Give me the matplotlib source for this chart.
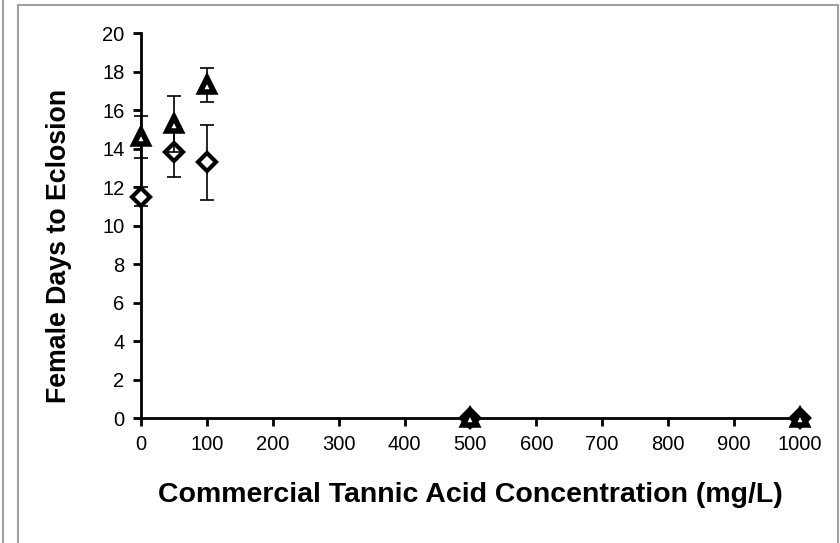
import matplotlib.pyplot as plt
from matplotlib.patches import Rectangle
from matplotlib.lines import Line2D

plt.rcParams['font.family'] = ['Liberation Sans', 'DejaVu Sans']

# data
conc = [0, 50, 100, 500, 1000]
tri_days = [14.6, 15.3, 17.3, 0, 0]
tri_err = [1.1, 1.45, 0.9, 0, 0]
dia_days = [11.5, 13.8, 13.3, 0, 0]
dia_err = [0.5, 1.25, 1.95, 0, 0]

fig = plt.figure(figsize=(8.4, 5.43), dpi=100)
ax = fig.add_axes([0.168, 0.230, 0.784, 0.709])

# gray frame round the chart, like the spreadsheet export
fig.patches.append(Rectangle((18 / 840, -0.01), 820 / 840, 1 - 5 / 543 + 0.01,
                             transform=fig.transFigure, fill=False,
                             edgecolor='#a0a0a0', linewidth=1.5))
fig.lines.append(Line2D([3 / 840, 3 / 840], [0, 1], transform=fig.transFigure,
                        color='#a0a0a0', linewidth=1.5))

dia = ax.errorbar(conc, dia_days, yerr=dia_err, fmt='D', color='black', ms=9,
                  mfc='white', mec='black', mew=3, ecolor='black', elinewidth=1.2,
                  capsize=5, clip_on=False, zorder=3)
tri = ax.errorbar(conc, tri_days, yerr=tri_err, fmt='^', color='black', ms=10,
                  mfc='white', mec='black', mew=4, ecolor='black', elinewidth=1.2,
                  capsize=5, clip_on=False, zorder=4)
# thin caps (mew would otherwise thicken them)
for eb in (dia, tri):
    for cap in eb[1]:
        cap.set_markeredgewidth(1.2)

ax.set_xlim(0, 1000)
ax.set_ylim(0, 20)
ax.set_xticks(range(0, 1001, 100))
ax.set_yticks(range(0, 21, 2))

for s in ['top', 'right']:
    ax.spines[s].set_visible(False)
for s in ['left', 'bottom']:
    ax.spines[s].set_linewidth(2)
ax.tick_params(direction='out', length=6, width=2, labelsize=14.5, pad=6)

ax.set_xlabel('Commercial Tannic Acid Concentration (mg/L)', fontsize=20.5,
              fontweight='bold', labelpad=20)
ax.set_ylabel('Female Days to Eclosion', fontsize=19.3, fontweight='bold')
ax.yaxis.set_label_coords(-0.105, 0.447)

fig.savefig('out.png', dpi=100)
